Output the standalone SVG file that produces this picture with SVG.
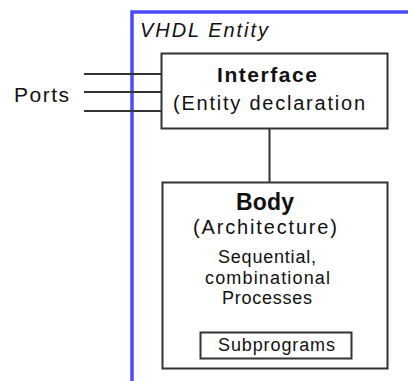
<svg xmlns="http://www.w3.org/2000/svg" width="408" height="381" viewBox="0 0 408 381">
<style>
.box{fill:#fff;stroke:#333;stroke-width:2}
.ln{stroke:#333;stroke-width:2;fill:none}
.t{font-family:"Liberation Sans",Arial,sans-serif;fill:#111}
.b{font-weight:bold}
</style>
<rect width="408" height="381" fill="#fff"/>
<g id="entity">
<path d="M132 381 V12 H408" fill="none" stroke="#4b4bff" stroke-width="3.5"/>
<text class="t" x="140" y="37" font-size="20" font-style="italic" textLength="128" lengthAdjust="spacing">VHDL Entity</text>
</g>
<g id="ports">
<text class="t" x="14" y="102" font-size="21" textLength="55" lengthAdjust="spacing">Ports</text>
</g>
<g id="connectors">
<path class="ln" d="M84 74 H161 M84 92 H161 M84 111 H161"/>
<path class="ln" d="M269.5 128.5 V182.5"/>
</g>
<g id="interface">
<rect class="box" x="161.5" y="53.5" width="226" height="75"/>
<text class="t b" x="267" y="82" font-size="21" text-anchor="middle" textLength="100" lengthAdjust="spacing">Interface</text>
<text class="t" x="269" y="110" font-size="20" text-anchor="middle" textLength="192" lengthAdjust="spacing">(Entity declaration</text>
</g>
<g id="body">
<rect class="box" x="162.5" y="182.5" width="225" height="186"/>
<text class="t b" x="265" y="210" font-size="23" text-anchor="middle" textLength="58" lengthAdjust="spacing">Body</text>
<text class="t" x="265" y="234" font-size="20" text-anchor="middle" textLength="144" lengthAdjust="spacing">(Architecture)</text>
<text class="t" x="267" y="263" font-size="18" text-anchor="middle" textLength="98" lengthAdjust="spacing">Sequential,</text>
<text class="t" x="267.5" y="284" font-size="18" text-anchor="middle" textLength="125" lengthAdjust="spacing">combinational</text>
<text class="t" x="267" y="304" font-size="18" text-anchor="middle" textLength="90" lengthAdjust="spacing">Processes</text>
</g>
<g id="subprograms">
<rect class="box" x="200.5" y="332.5" width="151" height="26"/>
<text class="t" x="276.5" y="351" font-size="18" text-anchor="middle" textLength="117" lengthAdjust="spacing">Subprograms</text>
</g>
</svg>
